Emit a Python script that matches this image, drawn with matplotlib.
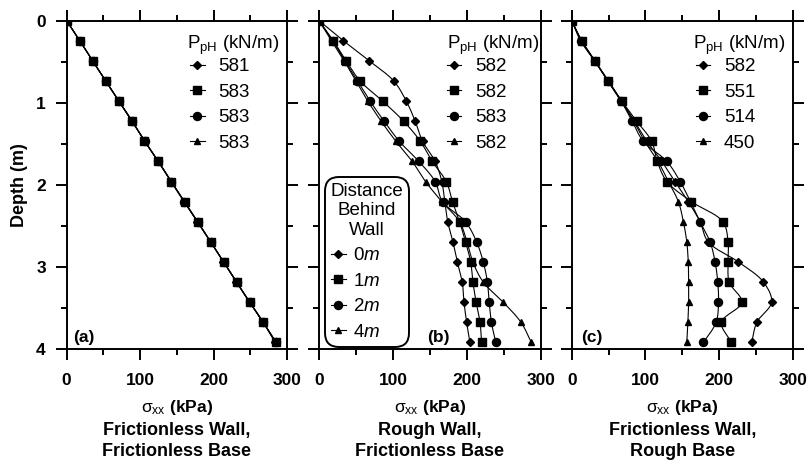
import numpy as np
import matplotlib
matplotlib.use("Agg")
import matplotlib.pyplot as plt
from matplotlib.ticker import MultipleLocator

plt.rcParams['font.family'] = ['Liberation Sans', 'DejaVu Sans']
plt.rcParams['mathtext.fontset'] = 'custom'
plt.rcParams['mathtext.rm'] = 'Liberation Sans'
plt.rcParams['mathtext.it'] = 'Liberation Sans:italic'
plt.rcParams['mathtext.bf'] = 'Liberation Sans:bold'

# Depth of each stress reading (m)
depth = [0.0, 0.245, 0.49, 0.735, 0.98, 1.225, 1.47, 1.715, 1.96,
         2.205, 2.45, 2.695, 2.94, 3.185, 3.43, 3.675, 3.92]

# (a) Frictionless wall, frictionless base: sigma_xx (kPa)
a_s1 = [0, 18, 35.5, 53, 71, 89, 106.5, 124.5, 142, 160, 178, 196, 213.5, 231, 249, 267.5, 284]
a_s2 = [0, 18, 35.3, 53.3, 71.4, 89.5, 106, 125, 142.5, 160.5, 178.6, 196, 214, 231.5, 249.5, 268, 285]
a_s3 = [0, 17.8, 35.5, 53.2, 71.2, 89, 106.5, 124.8, 142.3, 160.2, 178.3, 196, 213.8, 231.3, 249.3, 267.8, 284.5]
a_s4 = [0, 17.9, 35.4, 53.1, 71.1, 88.8, 106.8, 124.7, 142.2, 160.1, 178.2, 196.2, 213.6, 231.2, 249.2, 267.6, 285.5]
a_labels = ["581", "583", "583", "583"]

# (b) Rough wall, frictionless base: sigma_xx (kPa) at distance behind wall
b_0m = [0, 33, 68, 101, 118, 130, 140, 157, 166, 170, 174, 181, 187, 193.6, 196, 199.5, 204]
b_1m = [0, 19.4, 36.6, 55.6, 86, 114.4, 137, 153, 172, 180.5, 190, 198, 205, 208, 212.4, 217.6, 219.8]
b_2m = [0, 18.5, 35, 52, 69, 88, 108.6, 135, 157, 167, 198, 213, 222, 227.6, 230, 233, 239]
b_4m = [0, 17, 34, 50, 66, 84, 104, 126, 144, 166, 190, 200, 208, 222, 249, 273, 287]
b_labels = ["582", "582", "583", "582"]
b_dist_labels = ["0$\\mathit{m}$", "1$\\mathit{m}$", "2$\\mathit{m}$", "4$\\mathit{m}$"]

# (c) Frictionless wall, rough base: sigma_xx (kPa)
c_s1 = [0, 13.6, 31.6, 49.7, 67.8, 85, 102, 122, 140, 158, 174, 185, 226, 260, 271, 251, 244]
c_s2 = [0, 13.6, 31.6, 49.7, 68, 88, 108.5, 116, 129, 162.4, 205, 212, 212, 213.5, 230.6, 203, 216.5]
c_s3 = [0, 12, 31, 49, 67, 82, 97, 129, 147, 161, 174, 187.6, 194.4, 198, 199, 195.8, 178.6]
c_s4 = [0, 13, 31, 49, 67, 84, 99, 117, 131, 144.6, 151.4, 156, 158, 158.5, 158.5, 157.5, 156]
c_labels = ["582", "551", "514", "450"]

MARKERS = [('D', 4.2), ('s', 6.2), ('o', 5.8), ('^', 4.6)]
NSEG = 10


def smooth_path(x, y, n=NSEG, yscale=110.0, alpha=0.5):
    """Centripetal Catmull-Rom curve through the points (passes through each)."""
    pts = np.column_stack([np.asarray(x, float), np.asarray(y, float) * yscale])
    ext = np.vstack([2 * pts[0] - pts[1], pts, 2 * pts[-1] - pts[-2]])
    out = []
    for i in range(len(pts) - 1):
        p0, p1, p2, p3 = ext[i], ext[i + 1], ext[i + 2], ext[i + 3]

        def tj(ti, pa, pb):
            return ti + max(np.hypot(*(pb - pa)), 1e-6) ** alpha

        t0 = 0.0
        t1 = tj(t0, p0, p1)
        t2 = tj(t1, p1, p2)
        t3 = tj(t2, p2, p3)
        t = np.linspace(t1, t2, n, endpoint=False)[:, None]
        a1 = (t1 - t) / (t1 - t0) * p0 + (t - t0) / (t1 - t0) * p1
        a2 = (t2 - t) / (t2 - t1) * p1 + (t - t1) / (t2 - t1) * p2
        a3 = (t3 - t) / (t3 - t2) * p2 + (t - t2) / (t3 - t2) * p3
        b1 = (t2 - t) / (t2 - t0) * a1 + (t - t0) / (t2 - t0) * a2
        b2 = (t3 - t) / (t3 - t1) * a2 + (t - t1) / (t3 - t1) * a3
        out.append((t2 - t) / (t2 - t1) * b1 + (t - t1) / (t2 - t1) * b2)
    out.append(pts[-1:])
    out = np.vstack(out)
    return out[:, 0], out[:, 1] / yscale


fig = plt.figure(figsize=(8.09, 4.61), dpi=100)
bottom, height = 0.2430, 0.7122
ax_a = fig.add_axes([0.0824, bottom, 0.2723, height])
ax_b = fig.add_axes([0.3943, bottom, 0.2744, height])
ax_c = fig.add_axes([0.7067, bottom, 0.2735, height])

# axes, series, legend labels, tag, tag x, header x, legend x, two title lines
panels = [
    (ax_a, [a_s1, a_s2, a_s3, a_s4], a_labels, "(a)", 0.029, 0.545, 0.562,
     "Frictionless Wall,", "Frictionless Base"),
    (ax_b, [b_0m, b_1m, b_2m, b_4m], b_labels, "(b)", 0.485, 0.575, 0.577,
     "Rough Wall,", "Frictionless Base"),
    (ax_c, [c_s1, c_s2, c_s3, c_s4], c_labels, "(c)", 0.042, 0.550, 0.560,
     "Frictionless Wall,", "Rough Base"),
]

LEG_FS = 13.5

for ax, series, labels, tag, tag_x, head_x, leg_x, title1, title2 in panels:
    lines = []
    for vals, (mk, ms), lab in zip(series, MARKERS, labels):
        xs, ys = smooth_path(vals, depth)
        ln, = ax.plot(xs, ys, color='black', lw=0.8, marker=mk, ms=ms,
                      markevery=NSEG, mfc='black', mec='black', label=lab)
        lines.append(ln)

    ax.set_xlim(0, 300)
    ax.set_ylim(4, 0)
    ax.xaxis.set_major_locator(MultipleLocator(100))
    ax.xaxis.set_minor_locator(MultipleLocator(50))
    ax.yaxis.set_major_locator(MultipleLocator(1))
    ax.yaxis.set_minor_locator(MultipleLocator(0.5))
    ax.tick_params(which='both', direction='out', top=True, right=True,
                   width=1.4, colors='black')
    ax.tick_params(which='major', length=8)
    ax.tick_params(which='minor', length=4.5)
    ax.tick_params(axis='x', which='major', labelsize=12.5, pad=9.5)
    ax.tick_params(axis='y', which='major', labelsize=12.5, pad=7)
    for lbl in ax.get_xticklabels() + ax.get_yticklabels():
        lbl.set_fontweight('bold')
    if ax is not ax_a:
        ax.tick_params(axis='y', labelleft=False)
    for sp in ax.spines.values():
        sp.set_linewidth(1.4)

    # legend header
    ax.text(head_x, 0.926, "P$_{\\mathrm{pH}}$ (kN/m)", transform=ax.transAxes,
            fontsize=LEG_FS, ha='left', va='center')
    leg = ax.legend(handles=lines, labels=labels,
                    loc='upper left', bbox_to_anchor=(leg_x, 0.886),
                    frameon=False, fontsize=LEG_FS,
                    handlelength=0.75, handletextpad=0.75, labelspacing=0.45,
                    borderaxespad=0.0, borderpad=0.0, numpoints=1)

    if ax is ax_b:
        ax.add_artist(leg)
        leg2 = ax.legend(handles=lines, labels=b_dist_labels,
                         title="Distance\nBehind\nWall",
                         loc='lower left', bbox_to_anchor=(0.027, 0.007),
                         frameon=True, fancybox=True, fontsize=LEG_FS,
                         title_fontsize=LEG_FS, handlelength=0.8,
                         handletextpad=0.4, labelspacing=0.45,
                         borderaxespad=0.0, borderpad=0.3,
                         alignment='left', numpoints=1)
        leg2.get_title().set_multialignment('center')
        leg2.get_title().set_linespacing(1.2)
        frame = leg2.get_frame()
        frame.set_edgecolor('black')
        frame.set_linewidth(1.4)
        frame.set_facecolor('white')
        frame.set_alpha(1)
        frame.set_boxstyle('round,pad=0,rounding_size=0.75')

    ax.text(tag_x, 0.036, tag, transform=ax.transAxes, fontsize=12.5,
            fontweight='bold', ha='left', va='center')

    ax.text(0.5, -0.179, "$\\mathrm{\\sigma_{xx}}$ (kPa)", transform=ax.transAxes,
            fontsize=12.5, fontweight='bold', ha='center', va='center')
    ax.text(0.5, -0.249, title1, transform=ax.transAxes,
            fontsize=13, fontweight='bold', ha='center', va='center')
    ax.text(0.5, -0.313, title2, transform=ax.transAxes,
            fontsize=13, fontweight='bold', ha='center', va='center')

ax_a.text(-0.212, 0.5, "Depth (m)", transform=ax_a.transAxes, rotation=90,
          fontsize=13, fontweight='bold', ha='center', va='center')

fig.savefig("out.png", dpi=100)
